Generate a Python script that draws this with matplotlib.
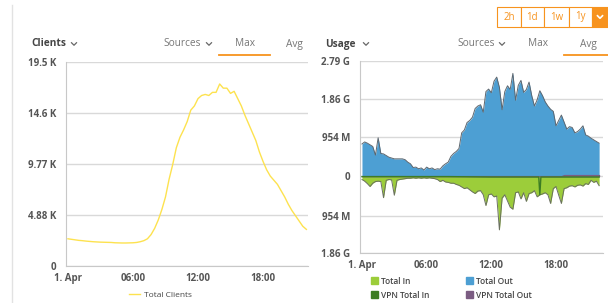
import numpy as np
import matplotlib
matplotlib.use("Agg")
import matplotlib.pyplot as plt
from matplotlib.lines import Line2D
from matplotlib.patches import Rectangle, Patch

plt.rcParams['font.family'] = ['Open Sans', 'DejaVu Sans']

# clients, one value every 20 minutes from 00:00 to 22:00 (thousands)
clients_k = [2.60, 2.55, 2.50, 2.45, 2.42, 2.38, 2.35, 2.32, 2.30,
             2.28, 2.27, 2.26, 2.25, 2.22, 2.21, 2.20, 2.20, 2.21,
             2.22, 2.25, 2.32, 2.42, 2.60, 3.00, 3.60, 4.40, 5.40,
             6.60, 8.30, 9.70, 11.3, 12.3, 13.0, 13.8, 14.9, 15.3,
             16.0, 16.3, 16.4, 16.3, 16.6, 16.6, 17.4, 17.0, 17.0,
             16.5, 16.7, 16.0, 15.3, 14.4, 13.6, 12.8, 12.0, 10.9,
             10.0, 9.20, 8.60, 8.20, 7.80, 7.20, 6.60, 5.90, 5.30,
             4.80, 4.30, 3.80, 3.50]

# usage, one value every 15 minutes from 00:00 to 22:00 (G)
total_out = [0.78, 0.83, 0.80, 0.76, 0.72, 0.51, 0.93, 0.55,
             0.54, 0.50, 0.46, 0.44, 0.42, 0.42, 0.42, 0.42,
             0.40, 0.34, 0.30, 0.21, 0.22, 0.18, 0.20, 0.15,
             0.22, 0.18, 0.20, 0.16, 0.18, 0.17, 0.25, 0.30,
             0.34, 0.48, 0.55, 0.60, 0.67, 1.05, 1.12, 1.30,
             1.35, 1.43, 1.64, 1.70, 1.73, 1.55, 2.05, 2.11,
             2.02, 2.30, 2.40, 2.15, 1.61, 2.05, 2.19, 2.10,
             2.49, 1.84, 2.20, 2.32, 2.03, 2.10, 2.28, 1.95,
             1.70, 1.85, 2.07, 1.95, 1.80, 1.70, 1.62, 1.57,
             1.22, 1.35, 1.48, 1.31, 1.14, 1.20, 1.18, 1.05,
             1.08, 1.14, 1.22, 1.00, 0.97, 0.92, 0.88, 0.84,
             0.80]
total_in = [0.08, 0.12, 0.18, 0.25, 0.17, 0.13, 0.12, 0.13,
            0.52, 0.10, 0.08, 0.09, 0.46, 0.10, 0.08, 0.07,
            0.06, 0.05, 0.05, 0.04, 0.05, 0.04, 0.05, 0.04,
            0.05, 0.04, 0.05, 0.06, 0.08, 0.13, 0.10, 0.14,
            0.15, 0.17, 0.17, 0.20, 0.22, 0.26, 0.30, 0.28,
            0.33, 0.38, 0.42, 0.36, 0.35, 0.45, 0.71, 0.45,
            0.43, 0.50, 0.48, 1.30, 0.53, 0.45, 0.60, 0.75,
            0.80, 0.40, 0.38, 0.55, 0.40, 0.61, 0.42, 0.40,
            0.35, 0.50, 0.45, 0.43, 0.40, 0.45, 0.66, 0.30,
            0.25, 0.46, 0.66, 0.30, 0.28, 0.24, 0.23, 0.26,
            0.22, 0.21, 0.24, 0.18, 0.20, 0.10, 0.15, 0.12,
            0.23]
vpn_in_hours = [0, 8, 12, 16.4, 16.5, 16.6, 22]
vpn_in = [0.01, 0.01, 0.02, 0.02, 0.45, 0.02, 0.02]
vpn_out_hours = [0, 18.5, 18.75, 22]
vpn_out = [0.005, 0.005, 0.03, 0.03]

x_ticks = [0, 6, 12, 18]
x_labels = ['1. Apr', '06:00', '12:00', '18:00']
clients_ticks = [0, 4.88, 9.77, 14.6, 19.53]
clients_labels = ['0', '4.88 K', '9.77 K', '14.6 K', '19.5 K']
usage_ticks = [-1.86, -0.954, 0, 0.954, 1.86, 2.79]
usage_labels = ['1.86 G', '954 M', '0', '954 M', '1.86 G', '2.79 G']

W, H = 608, 303
fig = plt.figure(figsize=(W / 100, H / 100), dpi=100)

def fx(px):
    return px / W

def fy(py):
    return 1 - py / H

grid_c = '#d9d9d9'
tick_c = '#555555'


def style_axis(ax, ticks, labels):
    ax.set_yticks(ticks)
    ax.set_yticklabels(labels)
    ax.set_xticks(x_ticks)
    ax.set_xticklabels(x_labels)
    ax.grid(axis='y', color=grid_c, lw=1)
    ax.set_axisbelow(True)
    for s in ['top', 'right']:
        ax.spines[s].set_visible(False)
    ax.spines['left'].set_color('#c8c8c8')
    ax.spines['bottom'].set_color('#c8c8c8')
    ax.tick_params(length=0, labelsize=7, labelcolor=tick_c, pad=7)
    for t in ax.get_xticklabels() + ax.get_yticklabels():
        t.set_fontweight('bold')
    ax.tick_params(axis='x', pad=5)


# left: clients
ax1 = fig.add_axes([fx(66), fy(266), fx(308 - 66), (266 - 61.7) / H])
hours_c = np.arange(len(clients_k)) / 3
ax1.plot(hours_c, clients_k, color='#fde24f', lw=1)
ax1.set_xlim(-0.18, 22.15)
ax1.set_ylim(0, 19.53)
style_axis(ax1, clients_ticks, clients_labels)

# right: usage
ax2 = fig.add_axes([fx(359.7), fy(253), fx(603 - 359.7), (253 - 61) / H])
hours_u = np.arange(len(total_out)) / 4
out_c = '#4d9fd3'
in_c = '#9ccd3a'
vin_c = '#3d7d24'
vout_c = '#7b5c82'
ax2.fill_between(hours_u, 0, total_out, color=out_c, lw=0)
ax2.plot(hours_u, total_out, color='#5d6770', lw=0.7)
ax2.fill_between(hours_u, 0, -np.array(total_in), color=in_c, lw=0)
ax2.plot(hours_u, -np.array(total_in), color='#6a7060', lw=0.7)
ax2.plot(vpn_in_hours, -np.array(vpn_in), color=vin_c, lw=1)
ax2.fill_between(vpn_out_hours, 0, vpn_out, color=vout_c, lw=0.8)
ax2.set_xlim(-0.21, 22.36)
ax2.set_ylim(-1.86, 2.79)
style_axis(ax2, usage_ticks, usage_labels)

# legends
ax1.legend(handles=[Line2D([], [], color='#fde24f', lw=1)], labels=['Total Clients'],
           loc='center', bbox_to_anchor=(fx(160), fy(295)), bbox_transform=fig.transFigure,
           frameon=False, fontsize=6, handlelength=1.4, handletextpad=0.4,
           labelcolor='#444444')
handles = [Patch(color=in_c), Patch(color=out_c), Patch(color=vin_c), Patch(color=vout_c)]
names = ['Total In', 'Total Out', 'VPN Total In', 'VPN Total Out']
order = [0, 2, 1, 3]
ax2.legend(handles=[handles[i] for i in order], labels=[names[i] for i in order],
           ncol=2, loc='center', bbox_to_anchor=(fx(451), fy(288)),
           bbox_transform=fig.transFigure, frameon=False,
           handlelength=0.9, handleheight=0.9, handletextpad=0.3,
           columnspacing=4.4, labelspacing=0.6, labelcolor='#444444',
           prop={'weight': 'semibold', 'size': 6})

# headers
hdr_y = fy(44)


def chevron(cx, cy, color='#666666', size=2.5, lw=0.9):
    fig.add_artist(Line2D([fx(cx - size), fx(cx), fx(cx + size)],
                          [fy(cy - size / 2), fy(cy + size / 2), fy(cy - size / 2)],
                          color=color, lw=lw, transform=fig.transFigure))


fig.text(fx(31), hdr_y, 'Clients', fontsize=7.3, fontweight='bold', color='#444444', va='center')
chevron(74, 44)
fig.text(fx(163), hdr_y, 'Sources', fontsize=7.3, color='#777777', va='center')
chevron(209, 44)
fig.text(fx(244.5), hdr_y, 'Max', fontsize=7.3, color='#777777', va='center', ha='center')
fig.text(fx(294), hdr_y, 'Avg', fontsize=7.3, color='#777777', va='center', ha='center')
fig.add_artist(Line2D([fx(219), fx(270)], [fy(55), fy(55)], color='#f7931e', lw=1.3))

fig.text(fx(325), hdr_y, 'Usage', fontsize=7.3, fontweight='bold', color='#444444', va='center')
chevron(366, 44)
fig.text(fx(457), hdr_y, 'Sources', fontsize=7.3, color='#777777', va='center')
chevron(502, 44)
fig.text(fx(538), hdr_y, 'Max', fontsize=7.3, color='#777777', va='center', ha='center')
fig.text(fx(588), hdr_y, 'Avg', fontsize=7.3, color='#777777', va='center', ha='center')
fig.add_artist(Line2D([fx(564), fx(608)], [fy(55), fy(55)], color='#f7931e', lw=1.3))

# time range buttons
orange = '#f7931e'
edges = [497.3, 520.7, 544, 569, 592.3, 607.5]
for i, lab in enumerate(['2h', '1d', '1w', '1y']):
    fig.add_artist(Rectangle((fx(edges[i]), fy(26.7)), fx(edges[i + 1] - edges[i]), (26.7 - 7.3) / H,
                             transform=fig.transFigure, facecolor='white', edgecolor=orange, lw=0.8))
    fig.text(fx((edges[i] + edges[i + 1]) / 2), fy(17), lab, fontsize=7, color=orange,
             ha='center', va='center')
fig.add_artist(Rectangle((fx(592.3), fy(26.7)), fx(15.2), (26.7 - 7.3) / H,
                         transform=fig.transFigure, facecolor=orange, edgecolor=orange, lw=0.8))
chevron(600, 17, color='white', size=2.5, lw=1.2)

# panel border
fig.add_artist(Line2D([fx(12), fx(12)], [0, fy(5)], color='#e2e2e2', lw=1))

fig.savefig('out.png', dpi=100)
